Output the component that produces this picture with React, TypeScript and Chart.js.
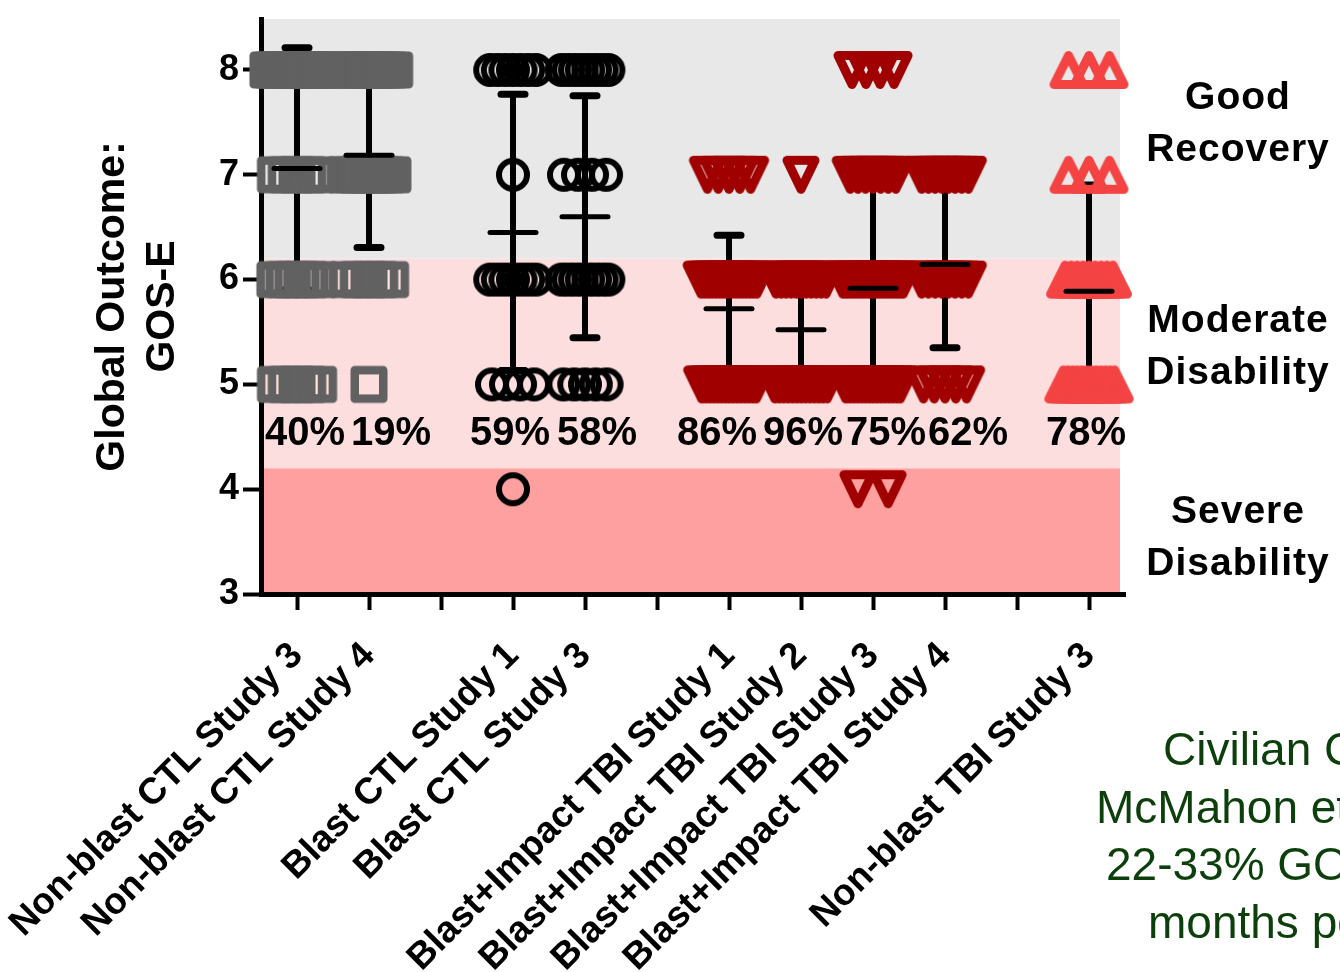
import React, { useEffect, useRef } from 'react';
import { Chart, registerables } from 'chart.js';

Chart.register(...registerables);

// ---------------- data ----------------
const categories = [
  'Non-blast CTL Study 3',
  'Non-blast CTL Study 4',
  '',
  'Blast CTL Study 1',
  'Blast CTL Study 3',
  '',
  'Blast+Impact TBI Study 1',
  'Blast+Impact TBI Study 2',
  'Blast+Impact TBI Study 3',
  'Blast+Impact TBI Study 4',
  '',
  'Non-blast TBI Study 3',
];

// GOS-E levels that the counts below refer to
const gosLevels = [8, 7, 6, 5, 4];

// number of subjects at each GOS-E level (8, 7, 6, 5, 4)
const nonBlastCtlStudy3 = [18, 5, 6, 5, 0];
const nonBlastCtlStudy4 = [12, 9, 5, 1, 0];
const blastCtlStudy1 = [7, 1, 7, 4, 1];
const blastCtlStudy3 = [8, 4, 8, 5, 0];
const blastImpactTbiStudy1 = [0, 5, 16, 15, 0];
const blastImpactTbiStudy2 = [0, 1, 11, 13, 0];
const blastImpactTbiStudy3 = [4, 7, 20, 15, 2];
const blastImpactTbiStudy4 = [0, 8, 8, 5, 0];
const nonBlastTbiStudy3 = [3, 3, 9, 12, 0];

const percentLabels = ['40%', '19%', '', '59%', '58%', '', '86%', '96%', '75%', '62%', '', '78%'];

const yTickValues = [3, 4, 5, 6, 7, 8];
const yMin = 3;
const yMax = 8.486;

// outcome band edges (GOS-E units) and their names
const bandEdges = [3, 4.2, 6.2, 8.486];
const bandNames = [
  ['Severe', 'Disability'],
  ['Moderate', 'Disability'],
  ['Good', 'Recovery'],
];
const noteLines = ['Civilian Cohort', 'McMahon et al.', '22-33% GOS-E 8 at 6', 'months post-injury'];

// ---------------- styling ----------------
const FONT = '"Liberation Sans", Arial, Helvetica, sans-serif';
const bandColors = ['#ffa0a0', '#fddede', '#e8e8e8'];
const GREY = '#616161';
const DARK_RED = '#a00000';
const BRIGHT_RED = '#f44343';
const pctNudge = [8, 22, 0, -3, 12, 0, -12, 2, 13, 23, 0, -3];

type Kind = 'square' | 'circle' | 'triDown' | 'triUp';

function makeMarker(kind: Kind, color: string): HTMLCanvasElement {
  const c = document.createElement('canvas');
  c.width = 46;
  c.height = 46;
  const ctx = c.getContext('2d')!;
  const m = 23;
  ctx.strokeStyle = color;
  ctx.lineJoin = 'round';
  ctx.beginPath();
  if (kind === 'square') {
    ctx.lineWidth = 8.5;
    ctx.rect(m - 14.25, m - 14.25, 28.5, 28.5);
  } else if (kind === 'circle') {
    ctx.lineWidth = 6;
    ctx.arc(m, m, 14, 0, Math.PI * 2);
  } else if (kind === 'triDown') {
    ctx.lineWidth = 9;
    ctx.moveTo(m - 14, m - 14.5);
    ctx.lineTo(m + 14, m - 14.5);
    ctx.lineTo(m, m + 14.5);
    ctx.closePath();
  } else {
    ctx.lineWidth = 9;
    ctx.moveTo(m - 14.5, m + 14.5);
    ctx.lineTo(m + 14.5, m + 14.5);
    ctx.lineTo(m, m - 14.5);
    ctx.closePath();
  }
  ctx.stroke();
  return c;
}

const groups: { cat: number; counts: number[]; kind: Kind; color: string }[] = [
  { cat: 1, counts: nonBlastCtlStudy3, kind: 'square', color: GREY },
  { cat: 2, counts: nonBlastCtlStudy4, kind: 'square', color: GREY },
  { cat: 4, counts: blastCtlStudy1, kind: 'circle', color: '#000000' },
  { cat: 5, counts: blastCtlStudy3, kind: 'circle', color: '#000000' },
  { cat: 7, counts: blastImpactTbiStudy1, kind: 'triDown', color: DARK_RED },
  { cat: 8, counts: blastImpactTbiStudy2, kind: 'triDown', color: DARK_RED },
  { cat: 9, counts: blastImpactTbiStudy3, kind: 'triDown', color: DARK_RED },
  { cat: 10, counts: blastImpactTbiStudy4, kind: 'triDown', color: DARK_RED },
  { cat: 12, counts: nonBlastTbiStudy3, kind: 'triUp', color: BRIGHT_RED },
];

// horizontal spread (in category widths) of n equal values, like a dot plot
function spread(n: number): number {
  if (n <= 1) return 0;
  return Math.min(0.21 * (n - 1), 0.26 + 0.008 * n);
}

function pointsFor(cat: number, counts: number[]) {
  const pts: { x: number; y: number }[] = [];
  counts.forEach((n, li) => {
    const w = spread(n);
    for (let i = 0; i < n; i++) {
      const off = n === 1 ? 0 : -w + (2 * w * i) / (n - 1);
      pts.push({ x: cat + off, y: gosLevels[li] });
    }
  });
  return pts;
}

function stats(counts: number[]) {
  let n = 0, s = 0;
  counts.forEach((c, i) => { n += c; s += c * gosLevels[i]; });
  const mean = s / n;
  let ss = 0;
  counts.forEach((c, i) => { ss += c * (gosLevels[i] - mean) ** 2; });
  return { mean, sd: Math.sqrt(ss / (n - 1)) };
}

const bandsPlugin = {
  id: 'bands',
  beforeDraw(chart: any) {
    const { ctx, chartArea, scales } = chart;
    const y = scales.y;
    ctx.save();
    for (let i = 0; i < bandColors.length; i++) {
      const top = y.getPixelForValue(bandEdges[i + 1]);
      const bot = y.getPixelForValue(bandEdges[i]);
      ctx.fillStyle = bandColors[i];
      ctx.fillRect(chartArea.left, top, chartArea.right - 5 - chartArea.left, bot - top);
    }
    ctx.restore();
  },
};

const errorBarPlugin = {
  id: 'errorBars',
  beforeDatasetsDraw(chart: any) {
    const { ctx, scales } = chart;
    const x = scales.x, y = scales.y;
    ctx.save();
    ctx.strokeStyle = '#000';
    groups.forEach((g) => {
      const { mean, sd } = stats(g.counts);
      const px = x.getPixelForValue(g.cat);
      const yt = y.getPixelForValue(mean + sd);
      const yb = y.getPixelForValue(mean - sd);
      ctx.lineWidth = 6;
      ctx.lineCap = 'butt';
      ctx.beginPath();
      ctx.moveTo(px, yt);
      ctx.lineTo(px, yb);
      ctx.stroke();
      ctx.lineCap = 'round';
      ctx.lineWidth = 7;
      ctx.beginPath();
      ctx.moveTo(px - 12, yt);
      ctx.lineTo(px + 12, yt);
      ctx.moveTo(px - 12, yb);
      ctx.lineTo(px + 12, yb);
      ctx.stroke();
    });
    ctx.restore();
  },
  afterDatasetsDraw(chart: any) {
    const { ctx, scales, chartArea } = chart;
    const x = scales.x, y = scales.y;
    ctx.save();
    ctx.strokeStyle = '#000';
    ctx.lineCap = 'round';
    ctx.lineWidth = 5;
    groups.forEach((g) => {
      const { mean } = stats(g.counts);
      const px = x.getPixelForValue(g.cat);
      const py = y.getPixelForValue(mean);
      ctx.beginPath();
      ctx.moveTo(px - 23, py);
      ctx.lineTo(px + 23, py);
      ctx.stroke();
    });

    // percentage labels
    ctx.fillStyle = '#000';
    ctx.font = `bold 40px ${FONT}`;
    ctx.textAlign = 'center';
    ctx.textBaseline = 'middle';
    percentLabels.forEach((t, i) => {
      if (!t) return;
      ctx.fillText(t, x.getPixelForValue(i + 1) + pctNudge[i], y.getPixelForValue(4.53));
    });

    // band names on the right
    ctx.font = `bold 39px ${FONT}`;
    (ctx as any).letterSpacing = '1px';
    const bandCenters = [3.53, 5.35, 7.48];
    bandNames.forEach((lines, i) => {
      const cy = y.getPixelForValue(bandCenters[i]);
      lines.forEach((l, j) => {
        ctx.fillText(l, chartArea.right + 113, cy + (j - 0.5) * 52);
      });
    });
    (ctx as any).letterSpacing = '0px';

    // civilian note (runs off the right edge)
    ctx.fillStyle = '#0c3f0c';
    ctx.font = `46px ${FONT}`;
    ctx.textAlign = 'left';
    ctx.textBaseline = 'alphabetic';
    const starts = [1163, 1096, 1106, 1148];
    noteLines.forEach((l, i) => {
      ctx.fillText(l, starts[i], 765 + i * 57.7);
    });
    ctx.restore();
  },
};

export default function App() {
  const ref = useRef<HTMLCanvasElement | null>(null);
  useEffect(() => {
    if (!ref.current) return;
    const markers = groups.map((g) => makeMarker(g.kind, g.color));
    const chart = new Chart(ref.current, {
      type: 'scatter',
      data: {
        datasets: groups.map((g, i) => ({
          label: categories[g.cat - 1],
          data: pointsFor(g.cat, g.counts),
          pointStyle: markers[i] as any,
          pointRadius: 18,
          pointHoverRadius: 18,
          clip: false as any,
        })),
      },
      plugins: [bandsPlugin, errorBarPlugin],
      options: {
        animation: false,
        responsive: false,
        events: [],
        devicePixelRatio: 1,
        layout: { padding: { left: 0, top: 10, right: 215, bottom: 0 } },
        plugins: { legend: { display: false }, tooltip: { enabled: false } },
        scales: {
          x: {
            type: 'linear',
            min: 0.5,
            max: 12.5,
            afterFit: (s: any) => {
              s.height = 378;
              s.paddingLeft = 0;
              s.paddingRight = 0;
            },
            afterBuildTicks: (s: any) => {
              s.ticks = categories.map((_, i) => ({ value: i + 1 }));
            },
            ticks: {
              autoSkip: false,
              includeBounds: false,
              minRotation: 45,
              maxRotation: 45,
              padding: 24,
              color: '#000',
              font: { family: FONT, size: 37, weight: 'bold' },
              callback: (v: any) => categories[Math.round(Number(v)) - 1] ?? '',
            },
            grid: { drawOnChartArea: false, drawTicks: true, tickLength: 16, tickWidth: 4, tickColor: '#000' },
            border: { display: true, width: 5, color: '#000' },
          },
          y: {
            type: 'linear',
            min: yMin,
            max: yMax,
            afterFit: (s: any) => {
              s.width = 261;
              s.paddingTop = 0;
              s.paddingBottom = 0;
            },
            afterBuildTicks: (s: any) => {
              s.ticks = yTickValues.map((v) => ({ value: v }));
            },
            ticks: {
              includeBounds: false,
              padding: 4,
              color: '#000',
              font: { family: FONT, size: 36, weight: 'bold' },
            },
            grid: { drawOnChartArea: false, drawTicks: true, tickLength: 18, tickWidth: 4, tickColor: '#000' },
            border: { display: true, width: 5, color: '#000' },
            title: {
              display: true,
              text: ['Global Outcome:', 'GOS-E'],
              color: '#000',
              font: { family: FONT, size: 41, weight: 'bold', lineHeight: 1.22 },
              padding: { top: 88, bottom: 0 },
            },
          },
        },
      },
    } as any);
    return () => chart.destroy();
  }, []);
  return (
    <div style={{ position: 'absolute', left: 0, top: 0, width: 1340, height: 972, overflow: 'hidden' }}>
      <canvas ref={ref} width={1340} height={972} />
    </div>
  );
}
